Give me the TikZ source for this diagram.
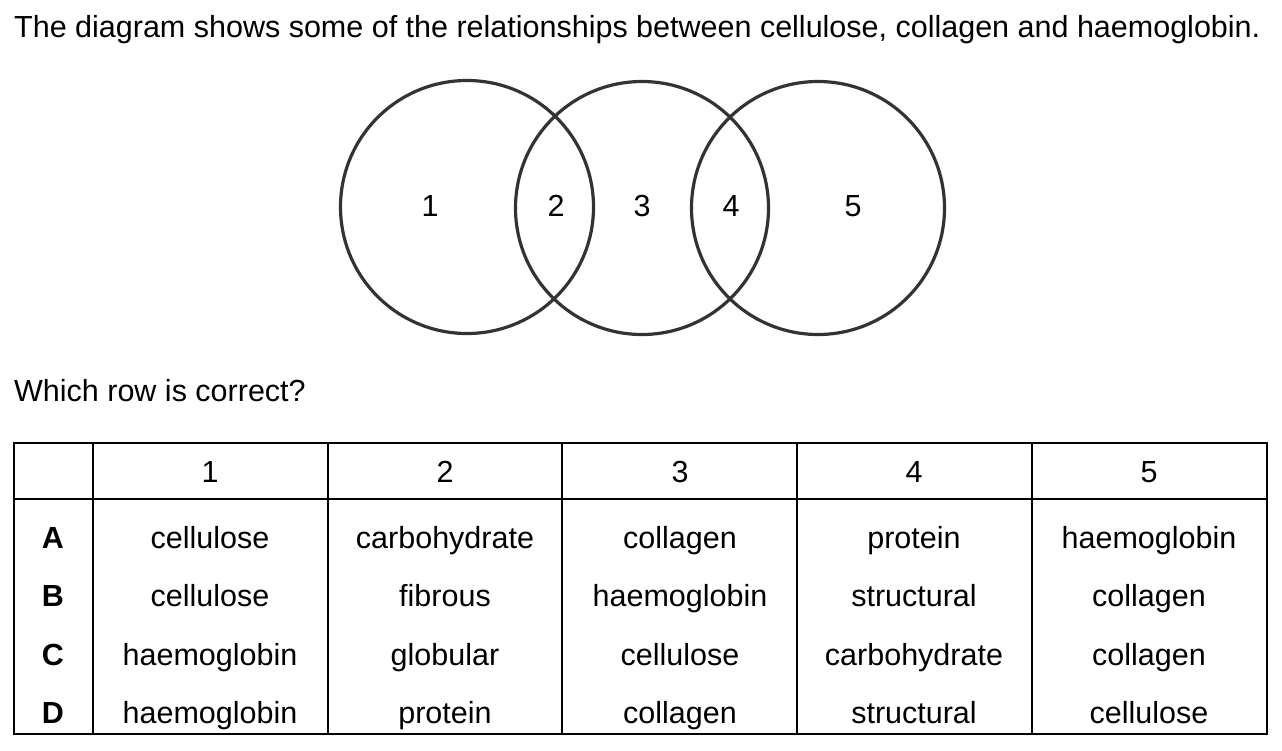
\documentclass[tikz,border=0pt]{standalone}
\usepackage{fontspec}
\setmainfont{Liberation Sans}
\usetikzlibrary{positioning}

\begin{document}
\begin{tikzpicture}[x=1pt, y=-1pt,
  ring/.style={draw=black!80, line width=3.2pt, circle, minimum size=253pt, inner sep=0pt},
  region/.style={font=\fontsize{30.5}{36}\selectfont, inner sep=0pt},
  cell/.style={font=\fontsize{30.5}{36}\selectfont, inner sep=0pt, anchor=base},
  rowhead/.style={cell, font=\fontsize{30.5}{36}\selectfont\bfseries},
  grid/.style={line width=2.6pt, line cap=rect},
]
\useasboundingbox (0,0) rectangle (1282,750);

% question
\node[cell, anchor=base west] (title) at (14,37) {The diagram shows some of the relationships between cellulose, collagen and haemoglobin.};

% the three circles
\node[ring] (c1) at (467,207) {};
\node[ring] (c2) at (642,208) {};
\node[ring] (c3) at (818,208) {};
\node[region] (r1) at (430,206) {1};
\node[region] (r2) at (556,206) {2};
\node[region] (r3) at (642,206) {3};
\node[region] (r4) at (731,206) {4};
\node[region] (r5) at (853,206) {5};

\node[cell, anchor=base west] (ask) at (14,401) {Which row is correct?};

% table
\draw[grid] (14,443) rectangle (1267,734);
\draw[grid] (14,499) -- (1267,499);
\draw[grid] (93,443) -- (93,734);
\draw[grid] (328,443) -- (328,734);
\draw[grid] (562,443) -- (562,734);
\draw[grid] (797,443) -- (797,734);
\draw[grid] (1032,443) -- (1032,734);

\node[cell] (h1) at (210,482) {1};
\node[cell] (h2) at (445,482) {2};
\node[cell] (h3) at (680,482) {3};
\node[cell] (h4) at (914,482) {4};
\node[cell] (h5) at (1149,482) {5};

\node[rowhead] (ra) at (53,548) {A};
\node[cell] (a1) at (210,548) {cellulose};
\node[cell] (a2) at (445,548) {carbohydrate};
\node[cell] (a3) at (680,548) {collagen};
\node[cell] (a4) at (914,548) {protein};
\node[cell] (a5) at (1149,548) {haemoglobin};

\node[rowhead] (rb) at (53,606) {B};
\node[cell] (b1) at (210,606) {cellulose};
\node[cell] (b2) at (445,606) {fibrous};
\node[cell] (b3) at (680,606) {haemoglobin};
\node[cell] (b4) at (914,606) {structural};
\node[cell] (b5) at (1149,606) {collagen};

\node[rowhead] (rc) at (53,665) {C};
\node[cell] (c1t) at (210,665) {haemoglobin};
\node[cell] (c2t) at (445,665) {globular};
\node[cell] (c3t) at (680,665) {cellulose};
\node[cell] (c4t) at (914,665) {carbohydrate};
\node[cell] (c5t) at (1149,665) {collagen};

\node[rowhead] (rd) at (53,723) {D};
\node[cell] (d1) at (210,723) {haemoglobin};
\node[cell] (d2) at (445,723) {protein};
\node[cell] (d3) at (680,723) {collagen};
\node[cell] (d4) at (914,723) {structural};
\node[cell] (d5) at (1149,723) {cellulose};
\end{tikzpicture}
\end{document}
